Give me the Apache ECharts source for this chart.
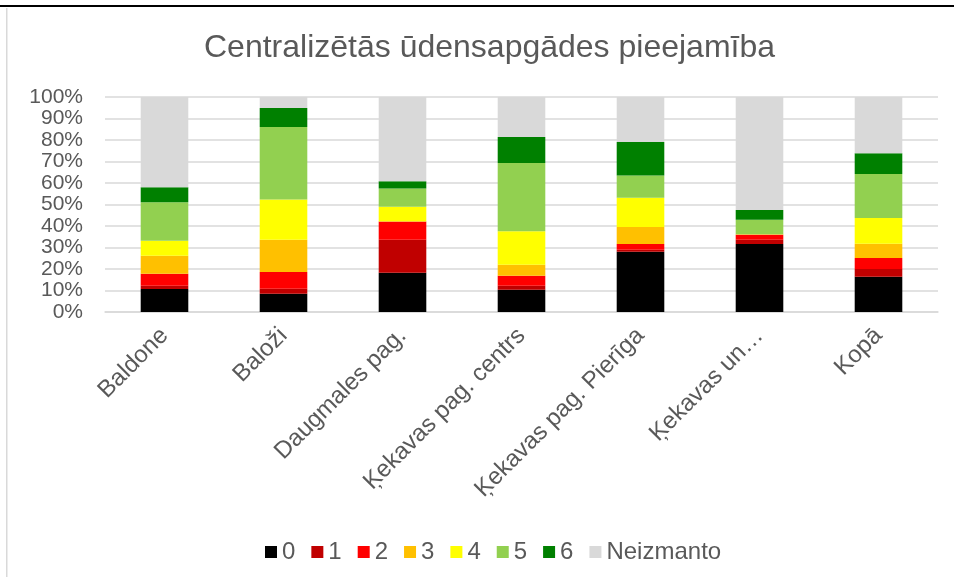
<!DOCTYPE html>
<html lang="lv">
  <head>
    <meta charset="UTF-8" />
    <title>Centralizētās ūdensapgādes pieejamība</title>
    <script src="https://cdn.jsdelivr.net/npm/echarts@6/dist/echarts.min.js"></script>
    <style>
      html, body { margin: 0; padding: 0; background: #fff; }
    </style>
  </head>
  <body>
    <div id="main" style="width: 954px; height: 577px"></div>
    <script>
      // kategorijas (x ass)
      var categories = ['Baldone', 'Baloži', 'Daugmales pag.', 'Ķekavas pag. centrs', 'Ķekavas pag. Pierīga', 'Ķekavas un…', 'Kopā'];
      var seriesNames = ['0', '1', '2', '3', '4', '5', '6', 'Neizmanto'];
      var seriesColors = ['#000000', '#c00000', '#ff0000', '#ffc000', '#ffff00', '#92d050', '#008000', '#d9d9d9'];

      // vērtības, % (nolasītas no attēla)
      var s0 = [10.7, 8.5, 18.3, 10.4, 28.0, 31.6, 16.4];
      var s1 = [1.5, 2.3, 15.3, 1.8, 0.9, 2.0, 3.6];
      var s2 = [5.6, 7.8, 8.5, 4.7, 2.7, 2.3, 5.1];
      var s3 = [8.4, 15.0, 0, 5.1, 7.9, 0.3, 6.6];
      var s4 = [6.9, 18.7, 6.8, 15.6, 13.6, 0, 12.0];
      var s5 = [18.0, 33.8, 8.5, 31.7, 10.4, 6.7, 20.5];
      var s6 = [6.9, 8.8, 3.4, 12.1, 15.6, 4.5, 9.6];
      var sNeizmanto = [42.0, 5.1, 39.2, 18.6, 20.9, 52.6, 26.2];
      var allValues = [s0, s1, s2, s3, s4, s5, s6, sNeizmanto];

      var font = 'Liberation Sans, Arial, sans-serif';
      var textColor = '#595959';

      var myChart = echarts.init(document.getElementById('main'));

      var series = [];
      for (var i = 0; i < seriesNames.length; i++) {
        series.push({
          name: seriesNames[i],
          type: 'bar',
          stack: 'total',
          barWidth: '40%',
          data: allValues[i],
          itemStyle: { color: seriesColors[i] },
        });
      }

      var option = {
        animation: false,
        backgroundColor: '#ffffff',
        title: {
          text: 'Centralizētās ūdensapgādes pieejamība',
          left: 199,
          top: 27,
          textStyle: { fontFamily: font, fontSize: 32, fontWeight: 'normal', color: textColor },
        },
        legend: {
          data: seriesNames,
          left: 260,
          top: 535,
          itemWidth: 12,
          itemHeight: 12,
          itemGap: 16,
          icon: 'rect',
          textStyle: { fontFamily: font, fontSize: 24, color: textColor },
        },
        grid: { left: 105, right: 16, top: 97, bottom: 265, containLabel: false },
        xAxis: {
          type: 'category',
          data: categories,
          axisLine: { lineStyle: { color: '#d9d9d9', width: 1.5 } },
          axisTick: { show: false },
          axisLabel: {
            interval: 0,
            rotate: 45,
            margin: 20,
            fontFamily: font,
            fontSize: 24,
            color: textColor,
          },
        },
        yAxis: {
          type: 'value',
          min: 0,
          max: 100,
          interval: 10,
          axisLine: { show: false },
          axisTick: { show: false },
          splitLine: { lineStyle: { color: '#d9d9d9', width: 1.5 } },
          axisLabel: {
            formatter: '{value}%',
            margin: 22,
            fontFamily: font,
            fontSize: 21,
            color: textColor,
          },
        },
        graphic: [
          // melnā līnija augšā
          { type: 'rect', left: 0, top: 5, shape: { width: 954, height: 2 }, style: { fill: '#000000' } },
          // diagrammas rāmja kreisā mala
          { type: 'rect', left: 6, top: 8, shape: { width: 1.5, height: 569 }, style: { fill: '#d9d9d9' } },
        ],
        series: series,
      };

      myChart.setOption(option);
    </script>
  </body>
</html>
